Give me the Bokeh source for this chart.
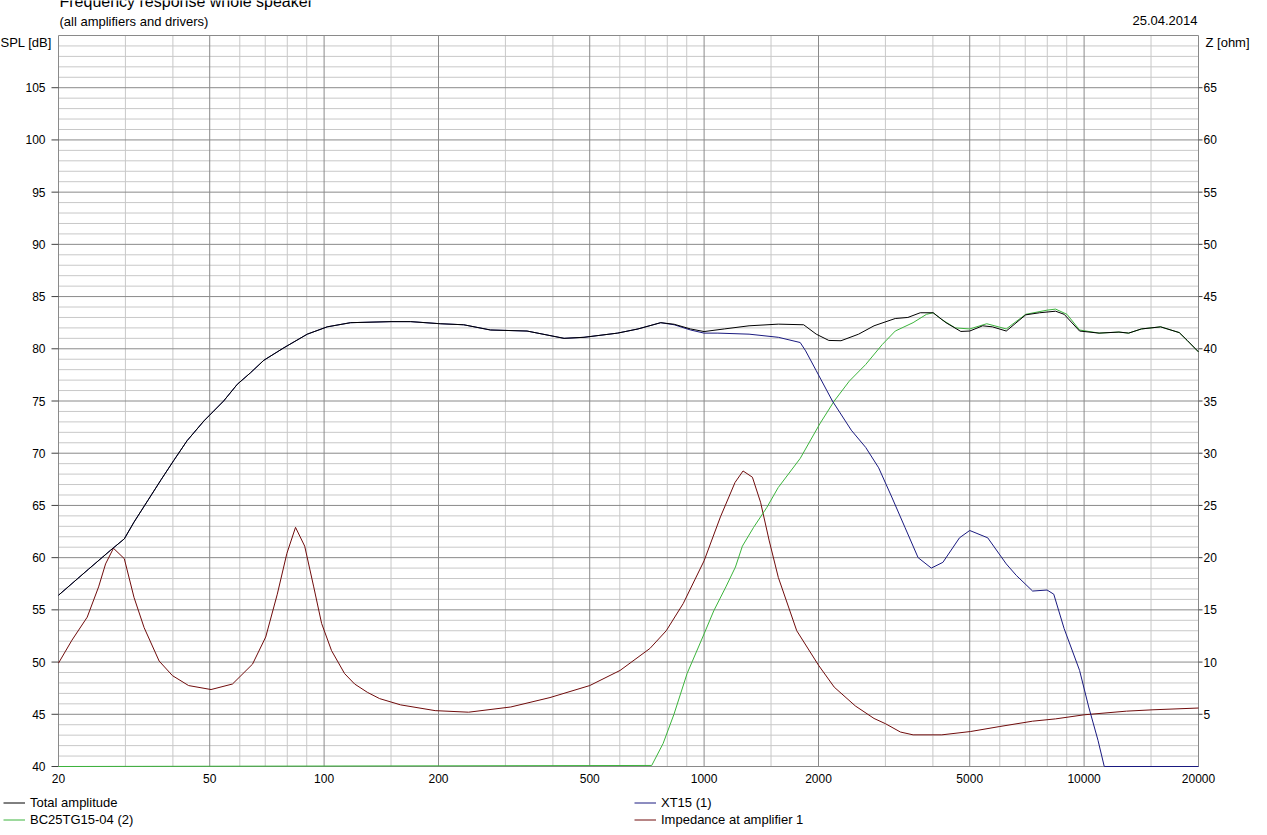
import math
from bokeh.plotting import figure
from bokeh.models import Range1d, Label, Legend, LegendItem
from bokeh.core.properties import value
from bokeh.embed import file_html
from bokeh.resources import INLINE

FONT = "Liberation Sans"

# ---- data ----
total_f = [20, 24, 27.4, 29.8, 31.6, 34.4, 37.3, 40.2, 43.6, 48.3, 54.4, 59.1, 64, 69.4, 78.4,
           90.3, 101.9, 117.4, 150, 169, 202, 233, 274, 342, 428, 483, 592, 670, 769, 834, 921,
           1000, 1130, 1313, 1568, 1828, 1973, 2129, 2292, 2550, 2800, 3184, 3437, 3705, 4006,
           4329, 4738, 5000, 5408, 5739, 6239, 7019, 7637, 8413, 8861, 9730, 10950, 12350,
           13100, 14150, 15900, 17800, 18680, 20000]
total_db = [56.4, 58.9, 60.7, 61.8, 63.4, 65.5, 67.5, 69.3, 71.2, 73.1, 75.0, 76.6, 77.7, 78.9, 80.1,
            81.4, 82.1, 82.5, 82.6, 82.6, 82.4, 82.3, 81.8, 81.7, 81.0, 81.1, 81.5, 81.9, 82.5, 82.35, 81.9,
            81.65, 81.9, 82.2, 82.36, 82.3, 81.4, 80.8, 80.77, 81.4, 82.2, 82.9, 83.0, 83.45, 83.45,
            82.5, 81.66, 81.7, 82.2, 82.1, 81.7, 83.25, 83.45, 83.6, 83.3, 81.7, 81.5, 81.6,
            81.5, 81.9, 82.1, 81.55, 80.8, 79.7]

xt15_f = [20, 24, 27.4, 29.8, 31.6, 34.4, 37.3, 40.2, 43.6, 48.3, 54.4, 59.1, 64, 69.4, 78.4,
          90.3, 101.9, 117.4, 150, 169, 202, 233, 274, 342, 428, 483, 592, 670, 769, 834,
          921, 1000, 1087, 1313, 1568, 1790, 1850, 1973, 2176, 2440, 2663, 2880, 3118, 3377,
          3657, 3962, 4250, 4700, 5000, 5576, 6239, 6630, 7320, 7990, 8320, 8861, 9730, 10283,
          10880, 11300, 20000]
xt15_db = [56.4, 58.9, 60.7, 61.8, 63.4, 65.5, 67.5, 69.3, 71.2, 73.1, 75.0, 76.6, 77.7, 78.9, 80.1,
           81.4, 82.1, 82.5, 82.6, 82.6, 82.4, 82.3, 81.8, 81.7, 81.0, 81.1, 81.5, 81.9, 82.5, 82.3,
           81.8, 81.5, 81.5, 81.4, 81.1, 80.6, 79.8, 77.9, 75.0, 72.2, 70.55, 68.6, 65.8, 62.9,
           60.0, 59.0, 59.55, 61.9, 62.6, 61.9, 59.4, 58.3, 56.8, 56.9, 56.5, 53.2, 49.2, 45.7,
           42.5, 40.0, 40.0]

bc25_f = [20, 728, 780, 833, 902, 1000, 1060, 1141, 1209, 1261, 1350, 1462, 1566, 1790, 2015,
          2200, 2410, 2663, 2942, 3184, 3547, 3847, 4006, 4222, 4581, 5000, 5544, 6239, 7019,
          7990, 8413, 9012, 9730, 10950, 12350, 13100, 14150, 15900, 17800, 18680, 20000]
bc25_db = [40.0, 40.1, 42.2, 45.0, 48.9, 52.7, 54.9, 57.2, 59.1, 61.1, 62.9, 64.8, 66.7, 69.5, 72.8,
           75.0, 76.9, 78.5, 80.4, 81.7, 82.5, 83.3, 83.45, 82.8, 82.0, 81.9, 82.4, 81.9, 83.3,
           83.7, 83.8, 83.3, 81.8, 81.5, 81.6, 81.5, 81.9, 82.1, 81.55, 80.8, 79.7]

imp_f = [20, 21.7, 23.8, 25.5, 26.6, 27.9, 29.8, 31.6, 33.6, 36.8, 39.9, 44, 50.4, 57.4, 64.8,
         70.2, 75.3, 79.8, 84.1, 88.9, 93.9, 98.5, 104.6, 113.2, 120.3, 130, 140, 159, 196,
         240, 310, 393, 500, 601, 720, 795, 881, 1000, 1104, 1206, 1266, 1340, 1408, 1484,
         1568, 1753, 2000, 2200, 2500, 2800, 3000, 3286, 3548, 4222, 5024, 6000, 7320, 8413,
         10000, 12925, 15180, 20000]
imp_ohm = [9.9, 12.1, 14.3, 17.2, 19.4, 20.9, 19.9, 16.2, 13.3, 10.1, 8.7, 7.75, 7.37, 7.9, 9.8,
           12.4, 16.5, 20.4, 22.9, 21.1, 17.2, 13.7, 11.1, 8.9, 7.9, 7.1, 6.5, 5.9, 5.35,
           5.2, 5.7, 6.6, 7.75, 9.2, 11.3, 13.0, 15.6, 19.7, 23.9, 27.2, 28.3, 27.7, 25.3, 21.6,
           18.1, 13.0, 9.7, 7.6, 5.8, 4.6, 4.1, 3.3, 3.03, 3.03, 3.35, 3.83, 4.34, 4.56,
           4.95, 5.3, 5.43, 5.6]

x_major = [20, 50, 100, 200, 500, 1000, 2000, 5000, 10000, 20000]
x_minor = [30, 40, 60, 70, 80, 90, 150, 300, 400, 600, 700, 800, 900, 1500, 3000, 4000,
           6000, 7000, 8000, 9000, 15000]
x_labels = [str(v) for v in x_major]
spl_ticks = list(range(40, 106, 5))
spl_labels = [str(v) for v in spl_ticks]
z_ticks = list(range(5, 66, 5))
z_labels = [str(v) for v in z_ticks]

F_MIN, F_MAX = 20, 20000
SPL_MIN, SPL_MAX = 40, 110
Z_MIN, Z_MAX = 0, 70
y_major = list(range(SPL_MIN, SPL_MAX + 1, 5))
y_minor = [v for v in range(SPL_MIN, SPL_MAX + 1) if v % 5]

# ---- layout (pixels) ----
W, H = 1260, 830
L, R, T, B = 58, 1198, 35, 766
lx0, lx1 = math.log10(F_MIN), math.log10(F_MAX)
ppd = (R - L) / (lx1 - lx0)
ppu = (B - T) / (SPL_MAX - SPL_MIN)
x_start = 10 ** (lx0 - L / ppd)
x_end = 10 ** (lx1 + (W - R) / ppd)
y_start = SPL_MIN - (H - B) / ppu
y_end = SPL_MAX + T / ppu

p = figure(x_axis_type="log", x_range=Range1d(x_start, x_end), y_range=Range1d(y_start, y_end),
           width=W, height=H, min_border=0, x_axis_location=None, y_axis_location=None,
           output_backend="svg", toolbar_location=None, background_fill_color="white",
           border_fill_color="white", outline_line_color=None)
p.xgrid.visible = False
p.ygrid.visible = False
p.extra_y_ranges = {"z": Range1d(y_start - SPL_MIN + Z_MIN, y_end - SPL_MIN + Z_MIN)}

MAJ, MIN = "#8a8a8a", "#c8c8c8"
# grid: minor first, then major
p.segment(x0=x_minor, y0=[SPL_MIN] * len(x_minor), x1=x_minor, y1=[SPL_MAX] * len(x_minor),
          line_color=MIN, line_width=1)
p.segment(x0=[F_MIN] * len(y_minor), y0=y_minor, x1=[F_MAX] * len(y_minor), y1=y_minor,
          line_color=MIN, line_width=1)
p.segment(x0=x_major, y0=[SPL_MIN] * len(x_major), x1=x_major, y1=[SPL_MAX] * len(x_major),
          line_color=MAJ, line_width=1)
p.segment(x0=[F_MIN] * len(y_major), y0=y_major, x1=[F_MAX] * len(y_major), y1=y_major,
          line_color=MAJ, line_width=1)

# tick marks and tick labels
tf = value(FONT)
x_tick_l = 10 ** (lx0 - 7 / ppd)
x_tick_r = 10 ** (lx1 + 4 / ppd)
p.segment(x0=[x_tick_l] * len(spl_ticks), y0=spl_ticks, x1=[F_MIN] * len(spl_ticks), y1=spl_ticks,
          line_color="#404040", line_width=1)
p.segment(x0=[F_MAX] * len(z_ticks), y0=z_ticks, x1=[x_tick_r] * len(z_ticks), y1=z_ticks,
          line_color="#404040", line_width=1, y_range_name="z")
p.text(x=x_major, y=[SPL_MIN] * len(x_major), text=x_labels, text_align="center",
       text_baseline="top", y_offset=7, text_font=tf, text_font_size="12px", text_color="black")
p.text(x=[F_MIN] * len(spl_ticks), y=spl_ticks, text=spl_labels, text_align="right",
       text_baseline="middle", x_offset=-13, text_font=tf, text_font_size="12px", text_color="black")
p.text(x=[F_MAX] * len(z_ticks), y=z_ticks, text=z_labels, text_align="left",
       text_baseline="middle", x_offset=5, text_font=tf, text_font_size="12px", text_color="black",
       y_range_name="z")

# curves
r_imp = p.line(imp_f, imp_ohm, y_range_name="z", line_color="#700c0c", line_width=1)
r_bc = p.line(bc25_f, bc25_db, line_color="#3cb43c", line_width=1)
r_xt = p.line(xt15_f, xt15_db, line_color="#1a1a80", line_width=1)
r_tot = p.line(total_f, total_db, line_color="black", line_width=1)

# legends
def mk_legend(items, loc):
    return Legend(items=items, location=loc, orientation="vertical",
                  background_fill_alpha=0, border_line_color=None,
                  label_text_font=FONT, label_text_font_size="13px",
                  label_text_color="black", glyph_width=22, glyph_height=15,
                  label_height=15, label_standoff=5, spacing=2, padding=0, margin=0)

p.add_layout(mk_legend([LegendItem(label="Total amplitude", renderers=[r_tot]),
                        LegendItem(label="BC25TG15-04 (2)", renderers=[r_bc])], (3, H - 827)))
p.add_layout(mk_legend([LegendItem(label="XT15 (1)", renderers=[r_xt]),
                        LegendItem(label="Impedance at amplifier 1", renderers=[r_imp])], (634, H - 827)))

# texts
def lab(text, cx, cy, size="13px", align="left", baseline="middle"):
    p.add_layout(Label(x=cx, y=H - cy, x_units="screen", y_units="screen", text=text,
                       text_font=FONT, text_font_size=size, text_color="black",
                       text_align=align, text_baseline=baseline))

lab("Frequency response whole speaker", 59, 1, size="16px")
lab("(all amplifiers and drivers)", 59, 21)
lab("25.04.2014", 1197, 20, align="right")
lab("SPL [dB]", 0, 42)
lab("Z [ohm]", 1205, 42)

open("out.html", "w").write(file_html(p, INLINE))
